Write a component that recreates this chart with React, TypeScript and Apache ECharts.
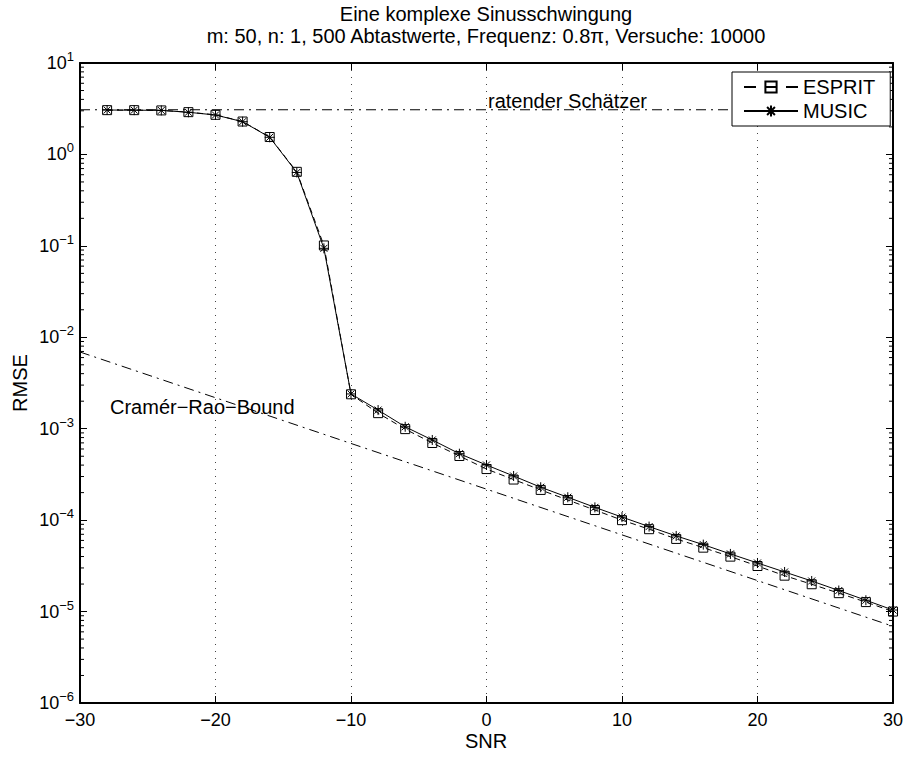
import React, { useEffect, useRef } from "react";
import * as echarts from "echarts";

const FONT = "'Liberation Sans', Arial, Helvetica, sans-serif";

const titleLines = [
  "Eine komplexe Sinusschwingung",
  "m: 50, n: 1, 500 Abtastwerte, Frequenz: 0.8π, Versuche: 10000",
];
const xName = "SNR";
const yName = "RMSE";

const snr = [-28, -26, -24, -22, -20, -18, -16, -14, -12, -10, -8, -6, -4, -2, 0, 2, 4, 6, 8, 10, 12, 14, 16, 18, 20, 22, 24, 26, 28, 30];

const esprit = [
  3.05, 3.05, 3.03, 2.9, 2.71, 2.29, 1.55, 0.645, 0.101, 2.38e-3,
  1.48e-3, 9.9e-4, 6.98e-4, 5.03e-4, 3.62e-4, 2.78e-4, 2.14e-4, 1.66e-4, 1.29e-4, 1.0e-4,
  7.96e-5, 6.23e-5, 5.0e-5, 3.99e-5, 3.15e-5, 2.47e-5, 1.99e-5, 1.59e-5, 1.27e-5, 1.0e-5,
];

const music = [
  3.06, 3.05, 3.03, 2.89, 2.7, 2.28, 1.54, 0.635, 0.094, 2.4e-3,
  1.6e-3, 1.05e-3, 7.53e-4, 5.33e-4, 4.01e-4, 3.04e-4, 2.29e-4, 1.78e-4, 1.38e-4, 1.08e-4,
  8.5e-5, 6.72e-5, 5.4e-5, 4.27e-5, 3.4e-5, 2.71e-5, 2.16e-5, 1.7e-5, 1.33e-5, 1.04e-5,
];

// Cramér-Rao bound (straight line in log scale), endpoints
const crbSnr = [-30, 30];
const crbVal = [6.9e-3, 6.9e-6];

// "ratender Schätzer" (guessing estimator) level
const guessSnr = [-30, 30];
const guessVal = [3.08, 3.08];

const xTicks = [-30, -20, -10, 0, 10, 20, 30];
const yMin = 1e-6;
const yMax = 10;

const minorTicks: number[] = [];
for (let e = -6; e <= 0; e++) {
  for (let k = 2; k <= 9; k++) minorTicks.push(k * Math.pow(10, e));
}

const fmtMinus = (v: number) => (v < 0 ? "−" + -v : String(v));

export default function App() {
  const ref = useRef<HTMLDivElement>(null);
  useEffect(() => {
    if (!ref.current) return;
    const chart = echarts.init(ref.current, undefined, { renderer: "svg" });
    const axisLine = { show: true, onZero: false, lineStyle: { color: "#000", width: 2 } };
    const tickStyle = { show: true, inside: true, length: 7, lineStyle: { color: "#000", width: 1 } };
    const yLabel = {
      margin: 6,
      formatter: (v: number) => {
        const e = Math.round(Math.log10(v));
        return "{b|10}{s|" + (e < 0 ? "−" + -e : String(e)) + "}";
      },
      rich: {
        b: { fontSize: 18, lineHeight: 26, fontFamily: FONT, color: "#000" },
        s: { fontSize: 13, lineHeight: 14, verticalAlign: "top", fontFamily: FONT, color: "#000" },
      },
    };
    const option: any = {
      animation: false,
      backgroundColor: "#fff",
      grid: { left: 80, right: 13, top: 63, bottom: 55, containLabel: false },
      legend: {
        data: [
          { name: "ESPRIT", lineStyle: { type: [12, 9] } },
          { name: "MUSIC" },
        ],
        orient: "vertical",
        left: 732,
        top: 72,
        padding: [5, 15, 5, 11],
        itemGap: 4,
        itemWidth: 54,
        itemHeight: 14,
        borderColor: "#000",
        borderWidth: 1,
        backgroundColor: "#fff",
        textStyle: { fontSize: 20, color: "#000", fontFamily: FONT },
      },
      xAxis: [
        {
          type: "value",
          min: xTicks[0],
          max: xTicks[xTicks.length - 1],
          interval: 10,
          position: "bottom",
          axisLine,
          axisTick: tickStyle,
          axisLabel: { fontSize: 18, color: "#000", fontFamily: FONT, margin: 8, formatter: fmtMinus },
          splitLine: { show: true, lineStyle: { color: "#444", width: 1, type: [1, 6] } },
        },
        {
          type: "value",
          min: xTicks[0],
          max: xTicks[xTicks.length - 1],
          interval: 10,
          position: "top",
          axisLine,
          axisTick: tickStyle,
          axisLabel: { show: false },
          splitLine: { show: false },
        },
      ],
      yAxis: [
        {
          type: "log",
          logBase: 10,
          min: yMin,
          max: yMax,
          splitNumber: 7,
          position: "left",
          axisLine,
          axisTick: tickStyle,
          axisLabel: yLabel,
          splitLine: { show: false },
        },
        {
          type: "log",
          logBase: 10,
          min: yMin,
          max: yMax,
          splitNumber: 7,
          position: "right",
          axisLine,
          axisTick: tickStyle,
          axisLabel: { show: false },
          splitLine: { show: false },
        },
      ],
      graphic: [
        { type: "text", x: 486, y: 14, style: { text: titleLines[0], fontSize: 20, fontFamily: FONT, fill: "#000", align: "center", verticalAlign: "middle" } },
        { type: "text", x: 486, y: 36, style: { text: titleLines[1], fontSize: 20, fontFamily: FONT, fill: "#000", align: "center", verticalAlign: "middle" } },
        { type: "text", x: 486, y: 741, style: { text: xName, fontSize: 20, fontFamily: FONT, fill: "#000", align: "center", verticalAlign: "middle" } },
        { type: "text", x: 20, y: 383, rotation: Math.PI / 2, style: { text: yName, fontSize: 20, fontFamily: FONT, fill: "#000", align: "center", verticalAlign: "middle" } },
        { type: "text", x: 488, y: 101, style: { text: "ratender Schätzer", fontSize: 20, fontFamily: FONT, fill: "#000", align: "left", verticalAlign: "middle" } },
        { type: "text", x: 110, y: 407, style: { text: "Cramér−Rao−Bound", fontSize: 20, fontFamily: FONT, fill: "#000", align: "left", verticalAlign: "middle" } },
      ],
      series: [
        {
          type: "custom",
          silent: true,
          data: minorTicks.map((v) => [xTicks[0], v]),
          renderItem: (params: any, api: any) => {
            const v = api.value(1);
            const pL = api.coord([xTicks[0], v]);
            const pR = api.coord([xTicks[xTicks.length - 1], v]);
            return {
              type: "group",
              children: [
                { type: "line", shape: { x1: pL[0], y1: pL[1], x2: pL[0] + 4, y2: pL[1] }, style: { stroke: "#000", lineWidth: 1 } },
                { type: "line", shape: { x1: pR[0] - 4, y1: pR[1], x2: pR[0], y2: pR[1] }, style: { stroke: "#000", lineWidth: 1 } },
              ],
            };
          },
        },
        {
          name: "guess",
          type: "line",
          silent: true,
          symbol: "none",
          data: guessSnr.map((x, i) => [x, guessVal[i]]),
          lineStyle: { color: "#000", width: 1, type: [10, 5, 2, 5] },
        },
        {
          name: "CRB",
          type: "line",
          silent: true,
          symbol: "none",
          data: crbSnr.map((x, i) => [x, crbVal[i]]),
          lineStyle: { color: "#000", width: 1, type: [10, 5, 2, 5] },
        },
        {
          name: "ESPRIT",
          type: "line",
          data: snr.map((x, i) => [x, esprit[i]]),
          symbol: "rect",
          symbolSize: 9,
          showAllSymbol: true,
          lineStyle: { color: "#000", width: 1, type: [6, 4] },
          itemStyle: { color: "none", borderColor: "#000", borderWidth: 1 },
        },
        {
          name: "MUSIC",
          type: "line",
          data: snr.map((x, i) => [x, music[i]]),
          symbol: "path://M5 0L5 10M0 5L10 5M1.5 1.5L8.5 8.5M1.5 8.5L8.5 1.5",
          symbolSize: 10,
          showAllSymbol: true,
          lineStyle: { color: "#000", width: 1 },
          itemStyle: { color: "none", borderColor: "#000", borderWidth: 1 },
        },
      ],
    };
    chart.setOption(option);
    return () => chart.dispose();
  }, []);
  return (
    <div
      ref={ref}
      style={{ position: "fixed", left: 0, top: 0, width: 906, height: 758 }}
    />
  );
}
